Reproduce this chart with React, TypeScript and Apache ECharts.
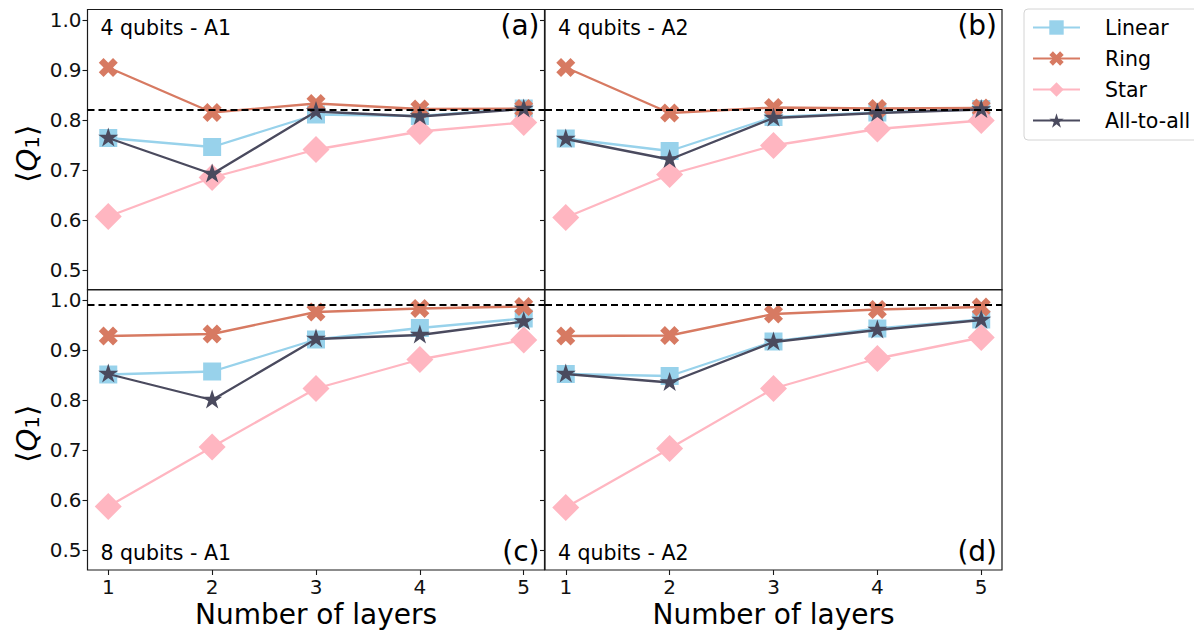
import React, { useEffect, useRef } from "react";
import * as echarts from "echarts";

// ---------- data ----------
const layers = [1, 2, 3, 4, 5];
const xTicks = [1, 2, 3, 4, 5];
const yTicks = [0.5, 0.6, 0.7, 0.8, 0.9, 1.0];
const seriesNames = ["Linear", "Ring", "Star", "All-to-all"];

// (a) 4 qubits - A1
const linearA = [0.764, 0.746, 0.811, 0.808, 0.823];
const ringA = [0.905, 0.815, 0.833, 0.822, 0.823];
const starA = [0.607, 0.685, 0.741, 0.777, 0.795];
const allA = [0.764, 0.692, 0.817, 0.807, 0.822];

// (b) 4 qubits - A2
const linearB = [0.763, 0.738, 0.806, 0.815, 0.822];
const ringB = [0.905, 0.814, 0.825, 0.823, 0.824];
const starB = [0.605, 0.691, 0.749, 0.782, 0.799];
const allB = [0.762, 0.721, 0.804, 0.814, 0.821];

// (c) 8 qubits - A1
const linearC = [0.851, 0.857, 0.921, 0.944, 0.963];
const ringC = [0.928, 0.932, 0.976, 0.983, 0.987];
const starC = [0.587, 0.706, 0.823, 0.881, 0.92];
const allC = [0.852, 0.8, 0.922, 0.93, 0.957];

// (d) 4 qubits - A2
const linearD = [0.852, 0.848, 0.917, 0.943, 0.961];
const ringD = [0.928, 0.929, 0.972, 0.981, 0.986];
const starD = [0.585, 0.703, 0.823, 0.883, 0.925];
const allD = [0.852, 0.835, 0.916, 0.94, 0.96];

const referenceLevels = [0.825, 0.825, 0.989, 0.989];
const panelTitles = ["4 qubits - A1", "4 qubits - A2", "8 qubits - A1", "4 qubits - A2"];
const panelTags = ["(a)", "(b)", "(c)", "(d)"];
const xAxisTitle = "Number of layers";

// ---------- styling ----------
const FONT = "DejaVu Sans";
const colors = ["#98d2eb", "#d77a62", "#ffb6c1", "#4a4a5e"];
const starPath =
  "path://M50 0 L61.23 34.55 L97.55 34.55 L68.17 55.9 L79.39 90.45 L50 69.1 L20.61 90.45 L31.83 55.9 L2.45 34.55 L38.77 34.55 Z";
const xPath =
  "path://M25 0 L50 25 L75 0 L100 25 L75 50 L100 75 L75 100 L50 75 L25 100 L0 75 L25 50 L0 25 Z";
const symbols = ["rect", xPath, "diamond", starPath];
const symbolSizes: any[] = [18, 19, [27, 27], [20, 19]];
const symbolOffsets: any[] = [[0, 0], [0, 0], [0, 0], [0, -1]];

const panelData = [
  [linearA, ringA, starA, allA],
  [linearB, ringB, starB, allB],
  [linearC, ringC, starC, allC],
  [linearD, ringD, starD, allD],
];

const GL = [87.5, 545, 87.5, 545];
const GT = [9.5, 9.5, 289.5, 289.5];
const GW = 457;
const GH = 280.5;

export default function App() {
  const ref = useRef<HTMLDivElement>(null);

  useEffect(() => {
    if (!ref.current) return;
    const chart = echarts.init(ref.current, undefined, { renderer: "svg" });

    const grids = GL.map((l, i) => ({
      left: l,
      top: GT[i],
      width: GW,
      height: GH,
      show: true,
      borderColor: "#1a1a1a",
      borderWidth: 1.2,
      backgroundColor: "transparent",
      containLabel: false,
    }));

    const xAxes = GL.map((_, i) => ({
      type: "value",
      gridIndex: i,
      min: 0.8,
      max: 5.2,
      axisLine: { show: false },
      splitLine: { show: false },
      axisTick: {
        show: i >= 2,
        length: 5,
        lineStyle: { color: "#1a1a1a", width: 1.1 },
        customValues: xTicks,
      },
      axisLabel: {
        show: i >= 2,
        customValues: xTicks,
        fontFamily: FONT,
        fontSize: 20,
        color: "#111",
        margin: 7,
        formatter: (v: number) => String(v),
      },
    }));

    const yAxes = GL.map((_, i) => ({
      type: "value",
      gridIndex: i,
      min: 0.46,
      max: 1.021,
      axisLine: { show: false },
      splitLine: { show: false },
      axisTick: {
        show: true,
        length: 5,
        lineStyle: { color: "#1a1a1a", width: 1.1 },
        customValues: yTicks,
      },
      axisLabel: {
        show: i % 2 === 0,
        customValues: yTicks,
        fontFamily: FONT,
        fontSize: 20,
        color: "#111",
        margin: 6,
        formatter: (v: number) => v.toFixed(1),
      },
    }));

    const series: any[] = [];
    panelData.forEach((arrs, p) => {
      arrs.forEach((vals, s) => {
        series.push({
          name: seriesNames[s],
          type: "line",
          xAxisIndex: p,
          yAxisIndex: p,
          data: layers.map((x, k) => [x, vals[k]]),
          symbol: symbols[s],
          symbolSize: symbolSizes[s],
          symbolOffset: symbolOffsets[s],
          showAllSymbol: true,
          itemStyle: { color: colors[s], opacity: 1 },
          lineStyle: { color: colors[s], width: 2.3 },
          z: 3 + s,
          emphasis: { disabled: true },
          markLine:
            s === 0
              ? {
                  silent: true,
                  symbol: "none",
                  label: { show: false },
                  lineStyle: { color: "#000", type: [7, 4], width: 1.8 },
                  data: [{ yAxis: referenceLevels[p] }],
                  z: 10,
                }
              : undefined,
        });
      });
    });

    const graphics: any[] = [];
    GL.forEach((l, i) => {
      const top = i < 2;
      graphics.push({
        type: "text",
        x: l + 13,
        y: top ? 28 : 553,
        style: {
          text: panelTitles[i],
          font: `20.5px "${FONT}"`,
          fill: "#000",
          align: "left",
          verticalAlign: "middle",
        },
        z: 20,
      });
      graphics.push({
        type: "text",
        x: l + GW - 5,
        y: top ? 25 : 551,
        style: {
          text: panelTags[i],
          font: `28px "${FONT}"`,
          fill: "#000",
          align: "right",
          verticalAlign: "middle",
        },
        z: 20,
      });
    });
    [0, 1].forEach((c) => {
      graphics.push({
        type: "text",
        x: GL[c] + GW / 2,
        y: 614,
        style: {
          text: xAxisTitle,
          font: `28px "${FONT}"`,
          fill: "#000",
          align: "center",
          verticalAlign: "middle",
        },
      });
    });
    [0, 2].forEach((r) => {
      graphics.push({
        type: "text",
        x: 27,
        y: GT[r] + GH / 2 + 4,
        rotation: Math.PI / 2,
        style: {
          text: "{b|⟨}{q|Q}{s|1}{b|⟩}",
          align: "center",
          verticalAlign: "middle",
          rich: {
            b: { fontFamily: FONT, fontSize: 29, lineHeight: 30, fill: "#000", verticalAlign: "middle" },
            q: { fontFamily: FONT, fontSize: 29, fontStyle: "italic", lineHeight: 30, fill: "#000", verticalAlign: "middle" },
            s: { fontFamily: FONT, fontSize: 20, lineHeight: 12, fill: "#000", verticalAlign: "bottom" },
          },
        },
      });
    });

    chart.setOption({
      animation: false,
      backgroundColor: "#fff",
      grid: grids,
      xAxis: xAxes,
      yAxis: yAxes,
      series,
      legend: {
        data: seriesNames,
        orient: "vertical",
        left: 1024,
        top: 9,
        padding: [8, 10, 9, 8],
        itemWidth: 47,
        itemHeight: 18,
        itemGap: 10,
        backgroundColor: "#fff",
        borderColor: "#d4d4d4",
        borderWidth: 1,
        borderRadius: 4,
        selectedMode: false,
        textStyle: { fontFamily: FONT, fontSize: 20.5, color: "#000", padding: [0, 0, 0, 20] },
      },
      graphic: graphics,
    });

    return () => chart.dispose();
  }, []);

  return (
    <div
      ref={ref}
      style={{ position: "absolute", left: 0, top: 0, width: 1194, height: 635, background: "#fff" }}
    />
  );
}
